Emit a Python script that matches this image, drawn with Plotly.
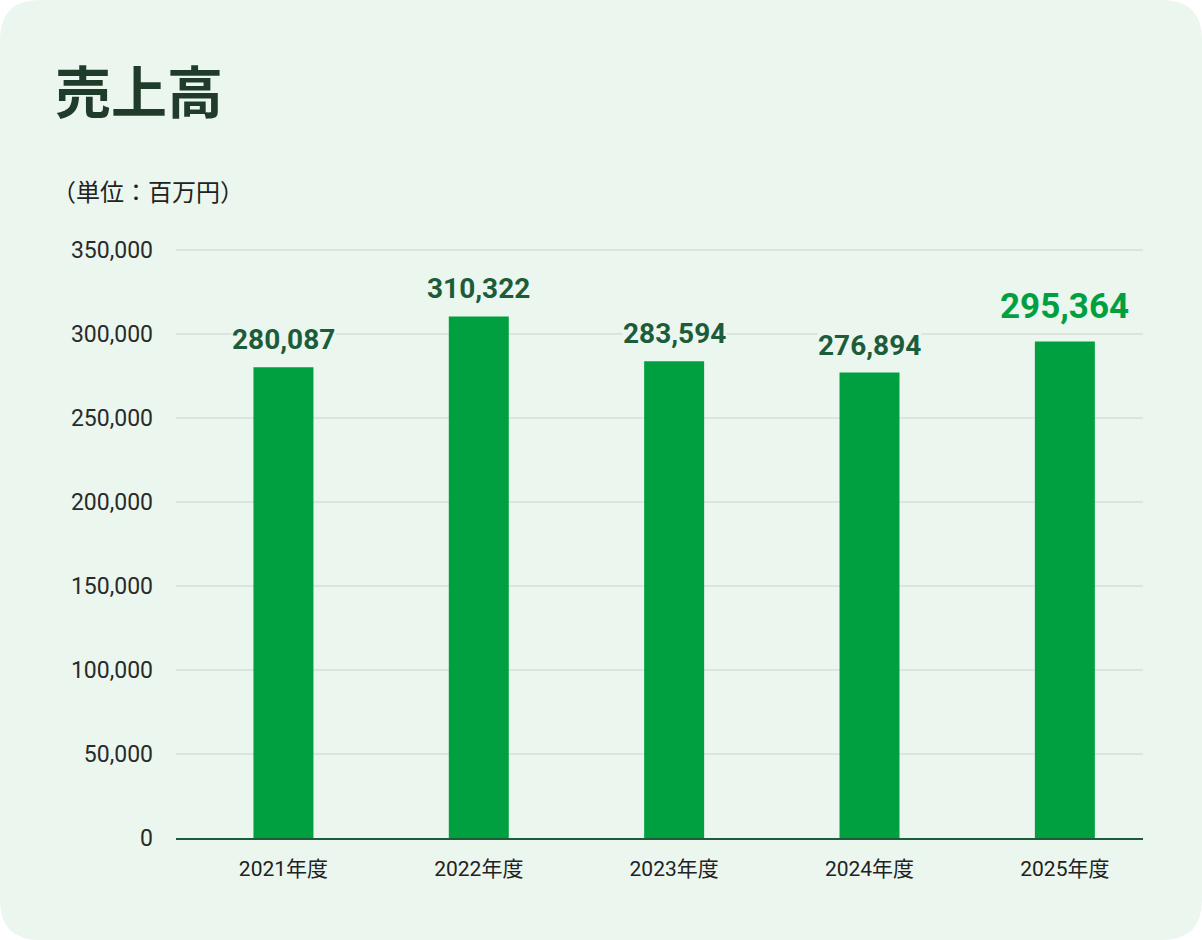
import plotly.graph_objects as go

# data
years = ["2021年度", "2022年度", "2023年度", "2024年度", "2025年度"]
sales = [280087, 310322, 283594, 276894, 295364]
y_ticks = [0, 50000, 100000, 150000, 200000, 250000, 300000, 350000]
y_tick_labels = ["0", "50,000", "100,000", "150,000", "200,000", "250,000", "300,000", "350,000"]

W, H = 1202, 940
M_L, M_R, M_T, M_B = 176, 59, 248, 102
PW, PH = W - M_L - M_R, H - M_T - M_B

BAR = "#00A040"
LABEL = "#1D5C3A"
CARD = "#EBF6EE"


def px(x, y):
    # pixel position on the page -> paper coords
    return (x - M_L) / PW, (H - M_B - y) / PH


def card_path(r=40):
    x0, y0, x1, y1 = 0, 0, W, H
    def p(x, y):
        a, b = px(x, y)
        return f"{a:.5f},{b:.5f}"
    return (f"M {p(x0 + r, y0)} L {p(x1 - r, y0)} Q {p(x1, y0)} {p(x1, y0 + r)} "
            f"L {p(x1, y1 - r)} Q {p(x1, y1)} {p(x1 - r, y1)} "
            f"L {p(x0 + r, y1)} Q {p(x0, y1)} {p(x0, y1 - r)} "
            f"L {p(x0, y0 + r)} Q {p(x0, y0)} {p(x0 + r, y0)} Z")


fig = go.Figure()
fig.add_trace(go.Bar(
    x=years, y=sales,
    marker=dict(color=BAR, line=dict(width=0)),
    width=0.307,
    hoverinfo="x+y",
))

# value labels above bars, the latest year highlighted
for i, (yr, v) in enumerate(zip(years, sales)):
    last = i == len(years) - 1
    fig.add_annotation(
        x=yr, y=v, yanchor="bottom", yshift=14 if last else 10,
        text=f"<b>{v:,}</b>", showarrow=False,
        font=dict(family="Roboto, Noto Sans", size=35 if last else 28,
                  color=BAR if last else LABEL),
        bgcolor=CARD, borderpad=0,
    )

ux, uy = px(50, 190)
fig.add_annotation(
    x=ux, y=uy, xref="paper", yref="paper", xanchor="left", yanchor="middle",
    text="（単位：百万円）", showarrow=False,
    font=dict(family="Noto Sans CJK JP", size=24, color="#222222"),
)

fig.update_layout(
    width=W, height=H,
    margin=dict(l=M_L, r=M_R, t=M_T, b=M_B, pad=0),
    paper_bgcolor="white",
    plot_bgcolor="rgba(0,0,0,0)",
    showlegend=False,
    title=dict(text="<b>売上高</b>", x=55 / W, xref="container", xanchor="left",
               y=1 - 93 / H, yref="container", yanchor="middle",
               font=dict(family="Noto Sans CJK JP", size=56, color="#1F3B2A")),
    shapes=[dict(type="path", path=card_path(), xref="paper", yref="paper",
                 fillcolor=CARD, line=dict(width=0), layer="below")],
)

fig.update_xaxes(
    type="category", range=[-0.55, 4.40],
    showgrid=False, showline=True, linecolor="#1D5C3A", linewidth=2,
    ticks="", ticklabelstandoff=11,
    tickfont=dict(family="Roboto, Noto Sans CJK JP", size=21, color="#222222"),
)
fig.update_yaxes(
    range=[0, 351000], tickvals=y_ticks, ticktext=y_tick_labels,
    showgrid=True, gridcolor="#DCE4DE", gridwidth=1.5, zeroline=False,
    ticks="", ticklabelstandoff=22,
    tickfont=dict(family="Roboto", size=23, color="#2A2A2A"),
)

# drop the browser's default body margin so the card sits at the page corner
fig.write_html("out.html", config={"displayModeBar": False},
               post_script="document.body.style.margin='0';")
